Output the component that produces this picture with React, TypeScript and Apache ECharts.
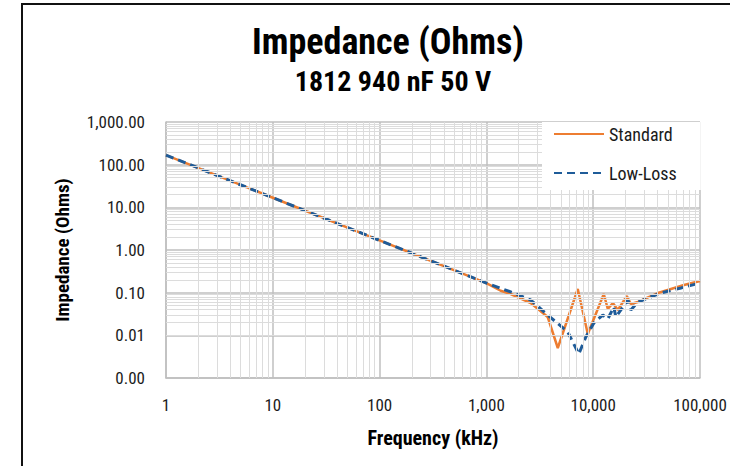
import React, { useEffect, useRef } from "react";
import * as echarts from "echarts";

const FONT = "'Roboto Condensed','Liberation Sans Narrow','DejaVu Sans Condensed',sans-serif";

const titleText = "Impedance (Ohms)";
const subtitleText = "1812 940 nF 50 V";
const xName = "Frequency (kHz)";
const yName = "Impedance (Ohms)";
const seriesNames = ["Standard", "Low-Loss"];

const stdFreq = [1, 10, 100, 1000, 1360, 1690, 2600, 3750, 4660, 7170, 8900, 12560, 13700, 15280, 17020, 20660, 22520, 26200, 29840, 40360, 70760, 100000];
const stdZ = [168, 16.8, 1.68, 0.168, 0.111, 0.0931, 0.0573, 0.0269, 0.00505, 0.122, 0.0107, 0.0931, 0.0414, 0.0573, 0.0393, 0.0836, 0.0542, 0.0604, 0.0709, 0.098, 0.151, 0.187];

const lowFreq = [1, 10, 100, 1000, 1690, 2600, 3750, 5780, 7330, 8530, 10140, 12300, 13700, 15600, 16290, 21130, 22520, 26200, 32500, 43050, 66370, 100000];
const lowZ = [168, 16.8, 1.68, 0.168, 0.104, 0.0673, 0.0299, 0.012, 0.00365, 0.00914, 0.0195, 0.0299, 0.0242, 0.0461, 0.0269, 0.0673, 0.0393, 0.0604, 0.075, 0.098, 0.129, 0.168];

const xDecades = [1, 10, 100, 1000, 10000];
const yDecades = [0.001, 0.01, 0.1, 1, 10, 100];
const minorSteps = [2, 3, 4, 5, 6, 7, 8, 9];

export default function App() {
  const ref = useRef<HTMLDivElement>(null);
  useEffect(() => {
    if (!ref.current) return;
    const chart = echarts.init(ref.current, undefined, { renderer: "svg" });
    const minorX: any[] = [];
    xDecades.forEach((d) => minorSteps.forEach((m) => minorX.push({ xAxis: d * m })));
    const minorY: any[] = [];
    yDecades.forEach((d) => minorSteps.forEach((m) => minorY.push({ yAxis: +(d * m).toPrecision(3) })));

    const fmtY = (v: number) =>
      Number(v).toLocaleString("en-US", { minimumFractionDigits: 2, maximumFractionDigits: 2 });
    const fmtX = (v: number) => Number(v).toLocaleString("en-US", { maximumFractionDigits: 0 });

    chart.setOption({
      animation: false,
      backgroundColor: "#ffffff",
      title: [
        {
          text: titleText,
          left: 383,
          top: 19,
          textAlign: "center",
          textStyle: { fontFamily: FONT, fontSize: 36, fontWeight: "bold", color: "#000" },
        },
        {
          text: subtitleText,
          left: 388,
          top: 62,
          textAlign: "center",
          textStyle: { fontFamily: FONT, fontSize: 28, fontWeight: "bold", color: "#000" },
        },
      ],
      graphic: [
        {
          type: "rect",
          shape: { x: 22, y: 4, width: 900, height: 800 },
          style: { fill: "none", stroke: "#111", lineWidth: 2 },
          silent: true,
        },
      ],
      grid: { left: 166, right: 30, top: 122, bottom: 88, containLabel: false },
      legend: {
        data: seriesNames,
        orient: "vertical",
        left: 542,
        top: 122,
        itemWidth: 50,
        itemHeight: 14,
        itemGap: 21,
        padding: [3, 24, 8, 11],
        backgroundColor: "#ffffff",
        itemStyle: { opacity: 0 },
        textStyle: { fontFamily: FONT, fontSize: 18, color: "#1a1a1a" },
        z: 10,
      },
      xAxis: {
        type: "log",
        logBase: 10,
        min: 1,
        max: 100000,
        name: xName,
        nameLocation: "middle",
        nameGap: 50,
        nameTextStyle: { fontFamily: FONT, fontSize: 20, fontWeight: "bold", color: "#000" },
        axisLine: { show: true, lineStyle: { color: "#BFBFBF", width: 1.5 } },
        axisTick: { show: false },
        axisLabel: { margin: 18, fontFamily: FONT, fontSize: 17, color: "#1a1a1a", formatter: fmtX },
        splitLine: { show: true, lineStyle: { color: "#BFBFBF", width: 1.5 } },
      },
      yAxis: {
        type: "log",
        logBase: 10,
        min: 0.001,
        max: 1000,
        name: yName,
        nameLocation: "middle",
        nameGap: 94,
        nameTextStyle: { fontFamily: FONT, fontSize: 19, fontWeight: "bold", color: "#000" },
        axisLine: { show: true, lineStyle: { color: "#BFBFBF", width: 1.5 } },
        axisTick: { show: false },
        axisLabel: { margin: 21, fontFamily: FONT, fontSize: 17, color: "#1a1a1a", formatter: fmtY },
        splitLine: { show: true, lineStyle: { color: "#BFBFBF", width: 1.5 } },
      },
      series: [
        {
          name: "minor-grid",
          type: "line",
          z: 1,
          data: [[1, 168]],
          symbol: "none",
          lineStyle: { opacity: 0 },
          silent: true,
          markLine: {
            silent: true,
            symbol: ["none", "none"],
            label: { show: false },
            lineStyle: { color: "#DCDCDC", width: 1, type: "solid" },
            emphasis: { disabled: true },
            data: [...minorX, ...minorY],
          },
        },
        {
          name: seriesNames[0],
          type: "line",
          z: 3,
          symbol: "none",
          showSymbol: false,
          lineStyle: { color: "#ED7D31", width: 2.5 },
          itemStyle: { color: "#ED7D31" },
          data: stdFreq.map((f, i) => [f, stdZ[i]]),
        },
        {
          name: seriesNames[1],
          type: "line",
          z: 4,
          symbol: "none",
          showSymbol: false,
          lineStyle: { color: "#1F5C99", width: 3, type: [8, 5] },
          itemStyle: { color: "#1F5C99" },
          data: lowFreq.map((f, i) => [f, lowZ[i]]),
        },
      ],
    });
    return () => chart.dispose();
  }, []);
  return <div ref={ref} style={{ position: "fixed", left: 0, top: 0, width: 730, height: 466 }} />;
}
